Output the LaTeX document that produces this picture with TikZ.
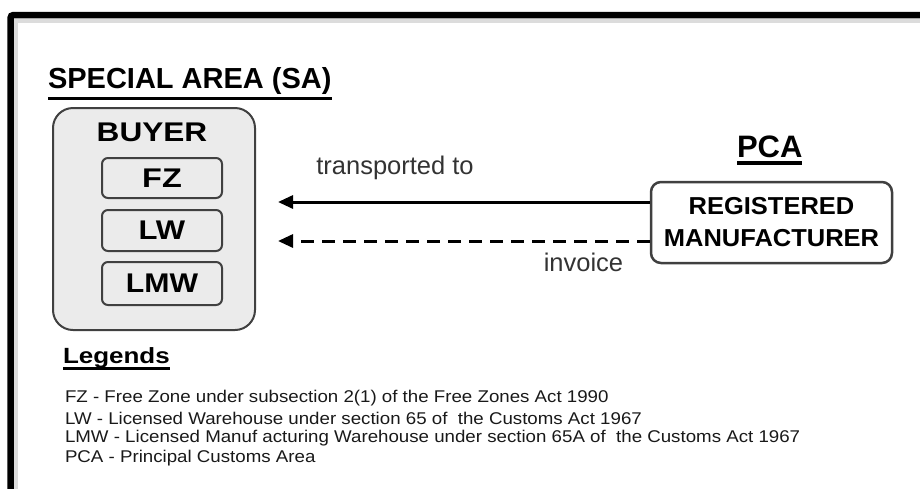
\documentclass[tikz,border=0pt]{standalone}
\usepackage{fontspec}
\usepackage{graphicx}
\setmainfont{Liberation Sans}
\usetikzlibrary{arrows.meta,calc}
\definecolor{boxgray}{HTML}{EBEBEB}
\definecolor{edgegray}{HTML}{404040}
\definecolor{labgray}{HTML}{333333}
\definecolor{shadowgray}{HTML}{DCDCDC}
\newcommand{\wide}[2]{\scalebox{#1}[1]{#2}}
\tikzset{
  plain/.style={inner sep=0pt,outer sep=0pt},
  bigbold/.style={plain,font=\bfseries\fontsize{29}{34}\selectfont},
  subbox/.style={draw=edgegray,line width=2pt,fill=boxgray,rounded corners=6pt,minimum width=120pt,inner sep=0pt,font=\bfseries\fontsize{27}{30}\selectfont},
  arrlabel/.style={plain,text=labgray,font=\fontsize{25.5}{30}\selectfont},
  legitem/.style={plain,anchor=west,text=black!90,font=\fontsize{17}{20}\selectfont},
  uline/.style={line width=3pt,draw=black},
  conn/.style={line width=3pt,draw=black,-{Triangle[length=15pt,width=13pt]}},
}
\begin{document}
\begin{tikzpicture}[x=1pt,y=-1pt]
\useasboundingbox (0,0) rectangle (920,488);
\clip (0,0) rectangle (920,488);
% frame
\draw[shadowgray,line width=4pt] (16,600) -- (16,20.5) -- (1000,20.5);
\draw[black,line width=6.5pt,rounded corners=3pt] (10.5,600) -- (10.5,15) -- (1000,15);
% title
\node[bigbold,anchor=base west] (title) at (48,88) {SPECIAL AREA (SA)};
\draw[uline] ($(title.base west)+(0,10)$) -- ($(title.base east)+(0,10)$);
% buyer
\node[draw=edgegray,line width=2pt,fill=boxgray,rounded corners=20pt,minimum width=202pt,minimum height=222pt,inner sep=0pt] (buyer) at (154,219) {};
\node[plain,font=\bfseries\fontsize{27}{30}\selectfont] (buyerlab) at (152,132) {\wide{1.17}{BUYER}};
\node[subbox,minimum height=40pt] (fz) at (162,178) {\wide{1.2}{FZ}};
\node[subbox,minimum height=41pt] (lw) at (162,230.5) {\wide{1.15}{LW}};
\node[subbox,minimum height=43pt] (lmw) at (162,283.5) {\wide{1.12}{LMW}};
% PCA
\node[plain,anchor=base west,font=\bfseries\fontsize{31}{36}\selectfont] (pca) at (737,157) {PCA};
\draw[line width=3.5pt] ($(pca.base west)+(0,6)$) -- ($(pca.base east)+(0,6)$);
\node[draw=edgegray,line width=2.5pt,fill=white,rounded corners=10pt,minimum width=241pt,minimum height=81pt,inner sep=0pt,align=center,font=\bfseries\fontsize{24.5}{32}\selectfont] (manu) at (771.5,222.5) {\wide{1.04}{REGISTERED}\\\wide{1.04}{MANUFACTURER}};
% arrows
\coordinate (tipA) at (278,202);
\coordinate (tipB) at (278,241);
\draw[conn] ([yshift=20.5pt]manu.west) -- (tipA);
\draw[conn,dash pattern=on 13pt off 8pt] ([yshift=-18.5pt]manu.west) -- (tipB);
\node[arrlabel] (ltrans) at (395,168) {transported to};
\node[arrlabel] (linv) at (583.5,262) {invoice};
% legends
\node[plain,anchor=base west,font=\bfseries\fontsize{22}{25}\selectfont] (leg) at (63,363) {\wide{1.18}{Legends}};
\draw[uline] ($(leg.base west)+(0,5.5)$) -- ($(leg.base east)+(0,5.5)$);
\node[legitem] (l1) at (65,398) {\wide{1.1}{FZ - Free Zone under subsection 2(1) of the Free Zones Act 1990}};
\node[legitem] (l2) at (65,418) {\wide{1.1}{LW - Licensed Warehouse under section 65 of\ \ the Customs Act 1967}};
\node[legitem] (l3) at (65,438) {\wide{1.1}{LMW - Licensed Manuf acturing Warehouse under section 65A of\ \ the Customs Act 1967}};
\node[legitem] (l4) at (65,458) {\wide{1.1}{PCA - Principal Customs Area}};
\end{tikzpicture}
\end{document}
